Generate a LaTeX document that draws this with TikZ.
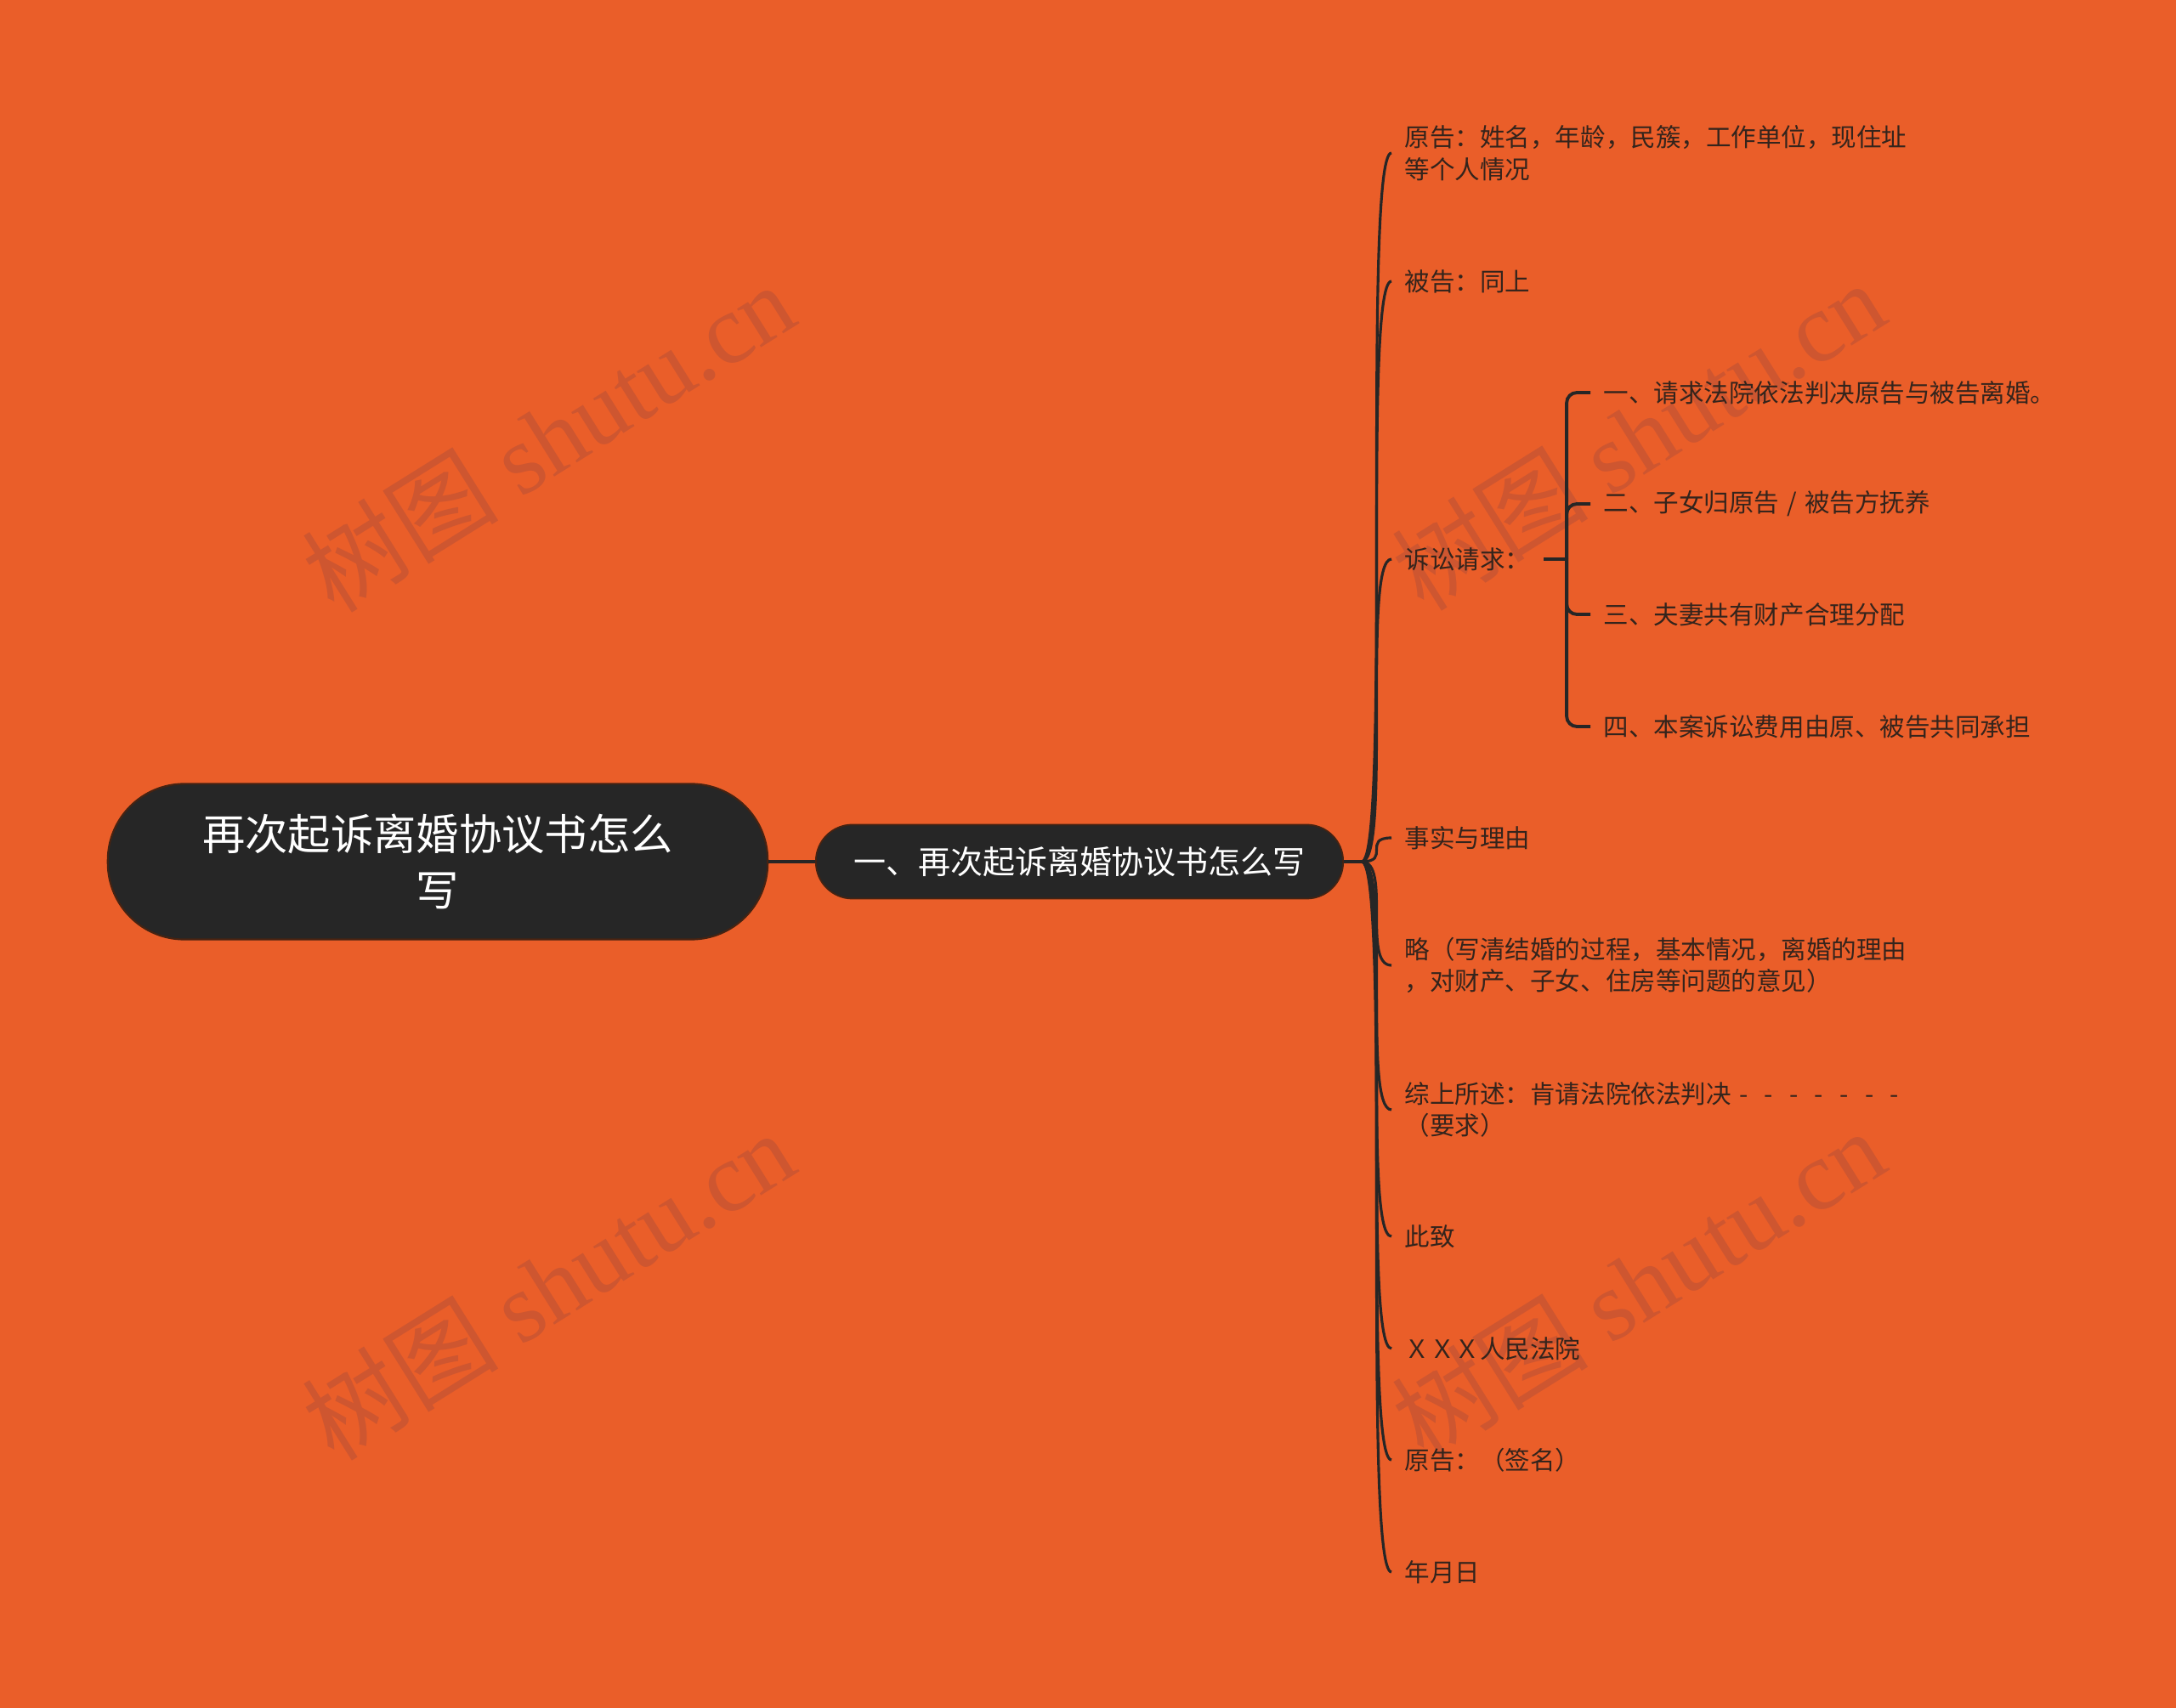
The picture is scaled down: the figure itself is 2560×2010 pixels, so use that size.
\documentclass[tikz,border=0pt]{standalone}
\usepackage{fontspec}
\setmainfont{Noto Sans CJK SC}
\newfontfamily\wmfont{Liberation Serif}
\usetikzlibrary{positioning}
\definecolor{bgorange}{RGB}{234,94,41}
\definecolor{nodedark}{RGB}{38,38,38}
\definecolor{nodeedge}{RGB}{70,35,18}
\definecolor{leaftext}{RGB}{52,36,28}
\definecolor{wmred}{RGB}{206,86,48}
\newcommand\wdash{\makebox[1em]{-}}
\tikzset{
  rootbox/.style={
    draw=nodeedge,
    line width=0.6pt,
    fill=nodedark,
    rounded corners=9mm,
    minimum width=7.76cm,
    minimum height=1.83cm,
    text=white,
    align=center,
    font=\fontsize{14.3}{19}\selectfont
  },
  topicbox/.style={
    draw=nodeedge,
    line width=0.5pt,
    fill=nodedark,
    rounded corners=4.3mm,
    minimum width=6.2cm,
    minimum height=0.87cm,
    text=white,
    font=\fontsize{10.8}{13}\selectfont
  },
  leaf/.style={
    anchor=west,
    inner xsep=1.5mm,
    inner ysep=0pt,
    text=leaftext,
    align=left,
    font=\fontsize{8.4}{10.7}\selectfont
  },
  branch/.style={
    draw=nodedark,
    line width=0.9pt
  },
  bracket/.style={
    draw=nodedark,
    line width=1.1pt,
    rounded corners=1.2mm
  },
  wmark/.style={
    text=wmred,
    rotate=32,
    font=\fontsize{33}{38}\selectfont
  }
}
\begin{document}
\begin{tikzpicture}[x=0.01cm, y=-0.01cm]
  \fill[bgorange] (0,0) rectangle (2560,2010);
  \useasboundingbox (0,0) rectangle (2560,2010);
  % watermark
  \foreach \wx/\wy in {645/514, 645/1512, 1927/512, 1927/1510}
    \node[wmark] at (\wx,\wy) {树图 {\wmfont shutu.cn}};

  \node[rootbox] (root) at (515,1014) {再次起诉离婚协议书怎么\\写};
  \node[topicbox] (topic) at (1270,1014) {一、再次起诉离婚协议书怎么写};
  \coordinate (hub) at (1602,1014);
  \draw[branch] (root) -- (topic);
  \draw[branch] (topic) -- (hub);

  \node[leaf] (plaintiff) at (1637,180) {原告：姓名，年龄，民簇，工作单位，现住址\\等个人情况};
  \node[leaf] (defendant) at (1637,331) {被告：同上};
  \node[leaf] (claim) at (1637,658) {诉讼请求：};
  \node[leaf] (facts) at (1637,986) {事实与理由};
  \node[leaf] (detail) at (1637,1136) {略（写清结婚的过程，基本情况，离婚的理由\\，对财产、子女、住房等问题的意见）};
  \node[leaf] (summary) at (1637,1306) {综上所述：肯请法院依法判决\wdash\wdash\wdash\wdash\wdash\wdash\wdash\\（要求）};
  \node[leaf] (greet) at (1637,1455) {此致};
  \node[leaf] (court) at (1637,1587) {ＸＸＸ人民法院};
  \node[leaf] (sign) at (1637,1718) {原告：（签名）};
  \node[leaf] (date) at (1637,1850) {年月日};

  \foreach \n in {plaintiff,defendant,claim,facts,detail,summary,greet,court,sign,date}
    \draw[branch] (hub) .. controls (hub -| \n.west) and (\n.west -| hub) .. (\n.west);

  % claims
  \coordinate[right=2.7mm of claim.east] (bk);
  \node[leaf] (req1) at (1871,462) {一、请求法院依法判决原告与被告离婚。};
  \node[leaf] (req2) at (1871,593) {二、子女归原告\makebox[1em]{/}被告方抚养};
  \node[leaf] (req3) at (1871,723) {三、夫妻共有财产合理分配};
  \node[leaf] (req4) at (1871,855) {四、本案诉讼费用由原、被告共同承担};
  \draw[bracket] (claim.east) -- (bk);
  \foreach \s in {req1,req2,req3,req4}
    \draw[bracket] (bk) |- (\s.west);
\end{tikzpicture}
\end{document}
